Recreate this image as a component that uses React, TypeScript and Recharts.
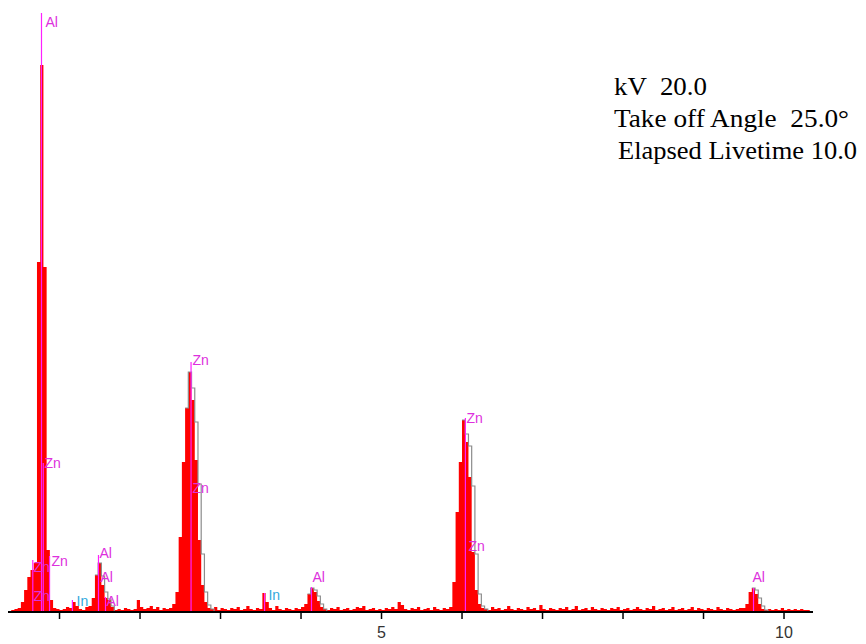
import React from 'react';
import { ComposedChart, Area, Line, XAxis, YAxis, ReferenceLine, ReferenceDot } from 'recharts';

// Spectrum calibration (keV per channel)
const CHANNEL_START_KEV = 0.36;
const CHANNEL_WIDTH_KEV = 0.04;

// Measured counts per channel (red spectrum)
const counts = [
  1, 2, 3, 4, 10, 22, 35, 42, 49, 350,
  547, 345, 62, 12, 4, 3, 2, 3, 5, 4,
  10, 6, 3, 2, 5, 6, 14, 37, 49, 27,
  14, 12, 5, 2, 3, 2, 4, 3, 2, 3,
  12, 5, 3, 4, 6, 3, 5, 2, 4, 3,
  4, 8, 20, 75, 150, 204, 240, 212, 152, 72,
  27, 10, 4, 3, 5, 2, 4, 3, 2, 4,
  3, 5, 2, 3, 6, 3, 2, 4, 3, 19,
  10, 4, 2, 6, 3, 2, 4, 3, 2, 4,
  3, 5, 8, 18, 24, 20, 11, 5, 3, 2,
  4, 3, 5, 2, 3, 4, 2, 3, 5, 4,
  6, 2, 3, 4, 2, 3, 2, 4, 3, 5,
  3, 10, 7, 3, 2, 4, 3, 5, 2, 3,
  4, 2, 5, 3, 2, 4, 3, 5, 30, 100,
  150, 192, 170, 135, 60, 22, 8, 4, 3, 2,
  5, 3, 4, 2, 3, 6, 3, 2, 4, 3,
  2, 5, 3, 4, 2, 7, 3, 2, 4, 3,
  2, 4, 3, 5, 2, 3, 6, 2, 3, 4,
  2, 5, 3, 2, 4, 3, 2, 4, 3, 5,
  2, 3, 4, 2, 3, 5, 3, 2, 4, 3,
  6, 2, 3, 4, 2, 3, 5, 2, 3, 4,
  2, 3, 5, 2, 4, 3, 2, 4, 3, 2,
  5, 3, 2, 4, 3, 2, 3, 4, 4, 8,
  20, 24, 18, 8, 3, 2, 3, 2, 3, 2,
  4, 2, 3, 2, 3, 2, 3, 2, 2, 1,
];

// Gray reference spectrum outline around the peaks
const overlayAl1 = { startChannel: 27, counts: [37, 49, 36, 20, 13, 6] };
const overlayZn1 = { startChannel: 55, counts: [204, 240, 224, 190, 128, 58, 20, 7, 3] };
const overlayAl2 = { startChannel: 93, counts: [18, 24, 22, 16, 8, 3] };
const overlayZn2 = { startChannel: 141, counts: [192, 178, 166, 126, 58, 18, 6, 3] };
const overlayAl3 = { startChannel: 231, counts: [24, 22, 14, 6, 2] };
const overlays = [overlayAl1, overlayZn1, overlayAl2, overlayZn2, overlayAl3];

// Element marker lines (energy keV, marker height)
const markerLines = [
  { energy: 0.776, top: 599 },
  { energy: 0.798, top: 149 },
  { energy: 0.876, top: 56 },
  { energy: 0.668, top: 52 },
  { energy: 1.16, top: 12 },
  { energy: 1.484, top: 57 },
  { energy: 1.571, top: 15 },
  { energy: 2.634, top: 250 },
  { energy: 3.547, top: 19 },
  { energy: 4.13, top: 25 },
  { energy: 6.042, top: 194 },
  { energy: 9.621, top: 24 },
];

// Element labels (text, energy of left edge, level)
const peakLabels = [
  { text: 'Al', energy: 0.826, level: 590, kind: 'main' },
  { text: 'Zn', energy: 0.814, level: 149, kind: 'main' },
  { text: 'Zn', energy: 0.901, level: 51, kind: 'main' },
  { text: 'Zn', energy: 0.677, level: 45, kind: 'main' },
  { text: 'Zn', energy: 0.677, level: 16, kind: 'main' },
  { text: 'In', energy: 1.211, level: 11, kind: 'alt' },
  { text: 'Al', energy: 1.497, level: 59, kind: 'main' },
  { text: 'Al', energy: 1.509, level: 35, kind: 'main' },
  { text: 'Al', energy: 1.584, level: 11, kind: 'main' },
  { text: 'Zn', energy: 2.652, level: 252, kind: 'main' },
  { text: 'Zn', energy: 2.652, level: 124, kind: 'main' },
  { text: 'In', energy: 3.596, level: 17, kind: 'alt' },
  { text: 'Al', energy: 4.143, level: 35, kind: 'main' },
  { text: 'Zn', energy: 6.056, level: 194, kind: 'main' },
  { text: 'Zn', energy: 6.081, level: 66, kind: 'main' },
  { text: 'Al', energy: 9.609, level: 35, kind: 'main' },
];

const axisTicks = [1, 2, 3, 4, 5, 6, 7, 8, 9, 10];
const labelledTicks = [5, 10];
const acquisitionInfo = ['kV  20.0', 'Take off Angle  25.0°', ' Elapsed Livetime 10.0'];

const channelEnergy = (i: number) => +(CHANNEL_START_KEV + i * CHANNEL_WIDTH_KEV).toFixed(3);

const spectrum = counts.map((c, i) => ({ e: channelEnergy(i), c }));
spectrum.push({ e: channelEnergy(counts.length), c: counts[counts.length - 1] });

const overlayData = overlays.map((o) => {
  const pts = o.counts.map((c, k) => ({ e: channelEnergy(o.startChannel + k), c }));
  pts.push({ e: channelEnergy(o.startChannel + o.counts.length), c: 0 });
  return pts;
});

const MAIN_LABEL = '#dd30dd';
const ALT_LABEL = '#30a8dc';

const Tick = (props: any) => {
  const { x, y, payload } = props;
  if (!labelledTicks.includes(payload.value)) return <g />;
  return (
    <text x={x} y={y + 17} textAnchor="middle" fontFamily="'Liberation Sans', Arial, sans-serif" fontSize={16} fill="#333">
      {payload.value}
    </text>
  );
};

export default function App() {
  const infoLayout = [
    { x: 606, y: 87, len: 93 },
    { x: 606, y: 119, len: 235 },
    { x: 610, y: 151, len: 239 },
  ];
  return (
    <div style={{ position: 'relative', width: 858, height: 636 }}>
      <style>{'html{overflow:hidden;}'}</style>
      <ComposedChart width={858} height={636} data={spectrum} margin={{ top: 4, right: 53, bottom: 0, left: 0 }}>
        <XAxis
          type="number"
          dataKey="e"
          domain={[0.36, 10.36]}
          allowDataOverflow
          ticks={axisTicks}
          tick={<Tick />}
          tickSize={7}
          height={32}
          axisLine={{ stroke: '#000', strokeWidth: 2 }}
          tickLine={{ stroke: '#000', strokeWidth: 1.5 }}
        />
        <YAxis hide type="number" domain={[0, 600]} allowDataOverflow />
        {overlayData.map((d, i) => (
          <Line
            key={'ov' + i}
            data={d}
            dataKey="c"
            type="stepAfter"
            stroke="#8c8c8c"
            strokeWidth={1.2}
            dot={false}
            activeDot={false}
            isAnimationActive={false}
          />
        ))}
        <Area
          dataKey="c"
          type="stepAfter"
          fill="#ff0000"
          fillOpacity={1}
          stroke="none"
          isAnimationActive={false}
          activeDot={false}
        />
        {markerLines.map((m, i) => (
          <ReferenceLine
            key={'ml' + i}
            segment={[{ x: m.energy, y: 0 }, { x: m.energy, y: m.top }]}
            stroke="#ff20ff"
            strokeWidth={1.2}
            ifOverflow="visible"
          />
        ))}
        {peakLabels.map((l, i) => (
          <ReferenceDot
            key={'pl' + i}
            x={l.energy}
            y={l.level}
            r={0}
            ifOverflow="visible"
            shape={(p: any) => (
              <text
                x={p.cx}
                y={p.cy}
                dominantBaseline="central"
                textAnchor="start"
                fontFamily="'Liberation Sans', Arial, sans-serif"
                fontSize={14}
                fill={l.kind === 'alt' ? ALT_LABEL : MAIN_LABEL}
              >
                {l.text}
              </text>
            )}
          />
        ))}
      </ComposedChart>
      <svg width={858} height={200} style={{ position: 'absolute', left: 0, top: 0, pointerEvents: 'none' }}>
        {acquisitionInfo.map((t, i) => (
          <text
            key={i}
            x={infoLayout[i].x}
            y={infoLayout[i].y}
            fontFamily="'Liberation Serif', 'Times New Roman', serif"
            fontSize={26}
            fill="#000"
            style={{ whiteSpace: 'pre' }}
            textLength={infoLayout[i].len}
            lengthAdjust="spacingAndGlyphs"
          >
            {t.trimStart()}
          </text>
        ))}
      </svg>
    </div>
  );
}
